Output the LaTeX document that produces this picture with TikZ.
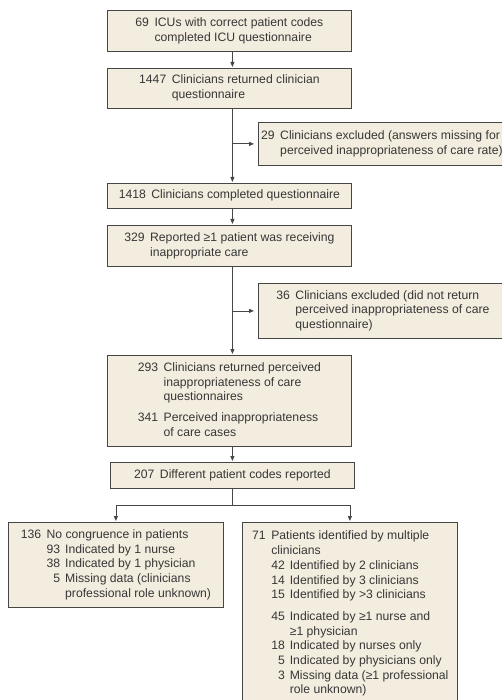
\documentclass[tikz,border=0pt]{standalone}
\usepackage{fontspec}
\setmainfont{Liberation Sans}
\usetikzlibrary{arrows.meta,calc}
\definecolor{boxfill}{RGB}{243,237,223}
\definecolor{boxline}{RGB}{70,70,70}
\definecolor{txt}{RGB}{55,55,55}
\newcommand\numtab[1]{\begin{tabular}{@{}r@{\hspace{5.5pt}}l@{}}#1\end{tabular}}
\newcommand\subtab[1]{\begin{tabular}{@{}r@{\hspace{5.5pt}}r@{\hspace{5pt}}l@{}}#1\end{tabular}}
\tikzset{
  boxnode/.style={draw=boxline, fill=boxfill, line width=0.8pt, inner sep=0pt,
    anchor=north west, align=center, text=txt,
    font=\fontsize{12.2}{14.7}\selectfont},
  txtnode/.style={inner sep=0pt, anchor=north west, align=left, text=txt,
    font=\fontsize{12.2}{14.7}\selectfont},
  arr/.style={draw=boxline, line width=0.8pt, -{Triangle[length=5pt,width=4pt]}, shorten >=1pt},
  ln/.style={draw=boxline, line width=0.8pt}
}
\begin{document}
\begin{tikzpicture}[x=1pt,y=-1pt]
\useasboundingbox (0,0) rectangle (502,700);
\clip (0,0) rectangle (502,700);
\node[boxnode, minimum width=244pt, minimum height=41pt] (b1) at (107,10)
  {\numtab{69 & ICUs with correct patient codes\\ & completed ICU questionnaire}};
\node[boxnode, minimum width=244pt, minimum height=40pt] (b2) at (107,68)
  {\numtab{1447 & Clinicians returned clinician\\ & questionnaire}};
\node[boxnode, minimum width=247pt, minimum height=43pt] (e1) at (258,122)
  {\numtab{29 & Clinicians excluded (answers missing for\\ & perceived inappropriateness of care rate)}};
\node[boxnode, minimum width=244pt, minimum height=25pt] (b3) at (107,183)
  {\numtab{1418 & Clinicians completed questionnaire}};
\node[boxnode, minimum width=244pt, minimum height=41pt] (b4) at (107,225)
  {\numtab{329 & Reported ≥1 patient was receiving\\ & inappropriate care}};
\node[boxnode, minimum width=249pt, minimum height=55pt] (e2) at (258,283)
  {\numtab{36 & Clinicians excluded (did not return\\ & perceived inappropriateness of care\\ & questionnaire)}};
\node[boxnode, minimum width=244pt, minimum height=91pt] (b5) at (107,355)
  {\numtab{293 & Clinicians returned perceived\\ & inappropriateness of care\\ & questionnaires\\[6pt]
   341 & Perceived inappropriateness\\ & of care cases}};
\node[boxnode, minimum width=244pt, minimum height=26pt] (b6) at (110,462)
  {\numtab{207 & Different patient codes reported}};
\node[boxnode, minimum width=215pt, minimum height=85pt] (b7) at (8,522)
  {\subtab{136 & \multicolumn{2}{@{}l@{}}{No congruence in patients}\\
   & 93 & Indicated by 1 nurse\\
   & 38 & Indicated by 1 physician\\
   & 5 & Missing data (clinicians\\
   & & professional role unknown)}};
\node[boxnode, minimum width=215pt, minimum height=190pt] (b8) at (242,522) {};
\node[txtnode] (t8) at ($(b8.north west)+(10,7.5)$)
  {\subtab{71 & \multicolumn{2}{@{}l@{}}{Patients identified by multiple}\\
   & \multicolumn{2}{@{}l@{}}{clinicians}\\
   & 42 & Identified by 2 clinicians\\
   & 14 & Identified by 3 clinicians\\
   & 15 & Identified by >3 clinicians\\[7pt]
   & 45 & Indicated by ≥1 nurse and\\
   & & ≥1 physician\\
   & 18 & Indicated by nurses only\\
   & 5 & Indicated by physicians only\\
   & 3 & Missing data (≥1 professional\\
   & & role unknown)}};
% connectors
\draw[arr] (b1.south -| b6.north) -- (b2.north -| b6.north);
\draw[arr] (b2.south -| b6.north) -- (b3.north -| b6.north);
\coordinate (j1) at (b6.north |- e1.west);
\draw[arr] (j1) -- ([xshift=-3pt]e1.west);
\draw[arr] (b3.south -| b6.north) -- (b4.north -| b6.north);
\draw[arr] (b4.south -| b6.north) -- (b5.north -| b6.north);
\coordinate (j2) at (b6.north |- e2.west);
\draw[arr] (j2) -- ([xshift=-3pt]e2.west);
\draw[arr] (b5.south -| b6.north) -- (b6.north);
\coordinate (split) at ($(b6.south)+(0,17)$);
\draw[ln] (b6.south) -- (split);
\draw[arr] (split) -| (b7.north);
\draw[arr] (split) -| (b8.north);
\end{tikzpicture}
\end{document}
